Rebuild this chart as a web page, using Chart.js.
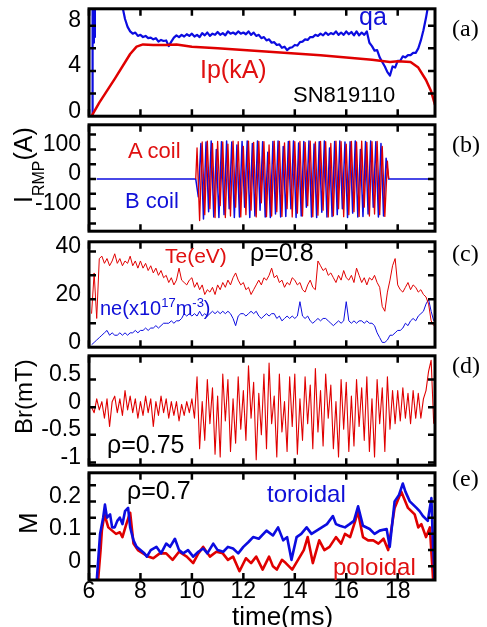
<!DOCTYPE html>
<html>
<head>
<meta charset="utf-8">
<script src="https://cdn.jsdelivr.net/npm/chart.js@4.4.0/dist/chart.umd.min.js"></script>
<style>
  html, body { margin: 0; padding: 0; background: #fff; }
  #fig { position: relative; width: 487px; height: 627px; overflow: hidden; background: #fff; }
  #fig canvas { position: absolute; left: 0; }
  .lab { position: absolute; line-height: 1; white-space: nowrap; font-family: 'Liberation Sans', Arial, sans-serif; color: #000; }
  .pl { position: absolute; line-height: 1; left: 452px; font-size: 24px; font-family: 'Liberation Serif', 'Times New Roman', serif; }
  .rot { transform-origin: 0 0; transform: rotate(-90deg); }
  .red { color: #e01010; }
  .blue { color: #1010d8; }
</style>
</head>
<body>
<div id="fig">
  <canvas id="ca"></canvas>
  <canvas id="cb"></canvas>
  <canvas id="cc"></canvas>
  <canvas id="cd"></canvas>
  <canvas id="ce"></canvas>

  <div class="lab blue" style="left:359px;top:4px;font-size:25px">qa</div>
  <div class="lab red" style="left:200px;top:57px;font-size:25px">Ip(kA)</div>
  <div class="lab" style="left:293px;top:84px;font-size:22px">SN819110</div>

  <div class="lab red" style="left:128px;top:140px;font-size:22px">A coil</div>
  <div class="lab blue" style="left:125px;top:190px;font-size:22px">B coil</div>
  <div class="lab rot" style="left:11px;top:203px;font-size:25px">I<span style="font-size:16px;position:relative;top:12px">RMP</span>(A)</div>

  <div class="lab red" style="left:165px;top:245px;font-size:21px">Te(eV)</div>
  <div class="lab" style="left:250px;top:240px;font-size:25px">ρ=0.8</div>
  <div class="lab blue" style="left:100px;top:298px;font-size:20px">ne(x10<span style="font-size:13px;position:relative;top:-8px">17</span>m<span style="font-size:13px;position:relative;top:-8px">-3</span>)</div>

  <div class="lab" style="left:107px;top:432px;font-size:25px">ρ=0.75</div>
  <div class="lab rot" style="left:12px;top:434px;font-size:24px">Br(mT)</div>

  <div class="lab" style="left:127px;top:478px;font-size:25px">ρ=0.7</div>
  <div class="lab blue" style="left:267px;top:482px;font-size:24px">toroidal</div>
  <div class="lab red" style="left:333px;top:555px;font-size:24px">poloidal</div>
  <div class="lab rot" style="left:15px;top:534px;font-size:26px">M</div>
  <div class="lab" style="left:232px;top:603px;font-size:26px">time(ms)</div>

  <div class="pl" style="top:16px">(a)</div>
  <div class="pl" style="top:132px">(b)</div>
  <div class="pl" style="top:241px">(c)</div>
  <div class="pl" style="top:353px">(d)</div>
  <div class="pl" style="top:466px">(e)</div>
</div>

<script>
// shared time axis (ms)
const xMin = 6, xMax = 19.45;
const xTickVals = [6, 8, 10, 12, 14, 16, 18];

// (a) plasma current Ip (kA) and edge safety factor qa
const ipTime = [6.1, 6.4, 7.0, 7.6, 7.85, 8.1, 8.5, 9.0, 9.4, 10, 11, 12, 13, 14, 15, 16, 17, 17.7, 18.0, 18.5, 18.8, 19.1, 19.3, 19.45];
const ipKA = [0, 1.2, 3.3, 5.5, 6.15, 6.35, 6.3, 6.3, 6.35, 6.15, 6.0, 5.85, 5.7, 5.55, 5.4, 5.2, 5.0, 4.8, 4.85, 4.8, 4.3, 3.2, 2.2, 1.0];
const qaHeadTime = [6.12, 6.14, 6.17, 6.19, 6.21, 6.23, 7.2];
const qaHead = [0, 10, 6.5, 9.5, 7, 10, 10];
const qaStart = 7.3; // then every 0.1 ms
const qa = [
  9.7, 8.6, 7.9, 7.5, 7.3, 7.4, 7.1,
  7.2, 7.0, 7.1, 6.9, 6.95, 6.8, 6.9, 6.6, 6.75, 6.65,
  6.7, 6.2, 6.6, 6.95, 7.15, 7.0, 7.2, 7.05, 7.25, 7.1,
  7.3, 7.05, 7.2, 7.0, 7.35, 7.15, 7.4, 7.1, 7.3, 7.2,
  7.45, 7.2, 7.35, 7.15, 7.5, 7.3, 7.4, 7.25, 7.5, 7.3,
  7.4, 7.25, 7.5, 7.2, 7.4, 7.1, 7.2, 6.9, 7.0, 6.7,
  6.8, 6.5, 6.55, 6.3, 6.35, 6.05, 6.15, 5.85, 6.05, 6.1,
  6.3, 6.25, 6.55, 6.6, 6.8, 6.75, 7.0, 7.0, 7.2, 7.1,
  7.3, 7.15, 7.4, 7.2, 7.35, 7.25, 7.5, 7.2, 7.4, 7.2,
  7.5, 7.25, 7.45, 7.15, 7.5, 7.15, 7.4, 7.2, 7.5, 6.5,
  6.2, 5.8, 5.85, 5.2, 4.8, 4.4, 3.9, 3.6, 4.4, 4.3,
  4.9, 4.9, 5.3, 5.2, 5.4, 5.4, 5.6, 5.6, 6.0, 6.7,
  7.6, 8.7, 10.0
];

// (b) RMP coil currents (A)
const coilOffTime = [6.3, 10.15, 17.65, 19.45];
const aCoilStart = 10.2; // every 0.1 ms
const aCoil = [
  105, -140, 125, -120, 128, -100, 120, -130, 127, -90,
  125, -130, 118, -125, 128, -95, 126, -128, 110, -120,
  128, -105, 124, -128, 127, -80, 126, -127, 115, -125,
  128, -110, 127, -126, 122, -100, 128, -128, 126, -115,
  127, -125, 124, -90, 128, -127, 125, -122, 127, -105,
  126, -128, 120, -124, 128, -100, 126, -127, 118, -120,
  127, -110, 125, -126, 128, -95, 124, -125, 126, -118,
  127, -120, 110, -126, 60
];
const bCoilStart = 10.25; // every 0.1 ms
const bCoil = [
  -60, 120, -135, 125, -110, 128, -128, 100, -130, 126,
  -120, 128, -100, 125, -130, 115, -128, 127, -95, 128,
  -130, 120, -125, 128, -105, 126, -128, 90, -130, 127,
  -118, 128, -128, 110, -126, 127, -100, 128, -130, 122,
  -125, 127, -95, 128, -128, 118, -130, 126, -112, 128,
  -128, 105, -126, 127, -120, 128, -100, 125, -130, 126,
  -115, 128, -128, 100, -126, 127, -118, 128, -95, 126,
  -128, 120, -125, 70
];

// (c) Te (eV) and ne (1e17 m^-3) at rho = 0.8, every 0.1 ms from 6.1
const profStart = 6.1;
const te = [
  14, 31, 12, 37, 38, 35, 37, 34, 36,
  39, 35, 37, 34, 36, 35, 38, 34, 36, 33,
  36, 33, 35, 32, 34, 31, 33, 30, 32, 29,
  30, 27, 29, 26, 28, 33, 28, 27, 26, 28,
  29, 25, 27, 24, 26, 22, 24, 23, 25, 22,
  26, 24, 27, 25, 28, 26, 29, 31, 28, 26,
  27, 24, 25, 22, 24, 26, 28, 26, 29, 28,
  30, 33, 29, 30, 27, 28, 25, 27, 26, 29,
  28, 26, 27, 24, 23, 26, 28, 25, 24, 36,
  34, 32, 33, 30, 31, 29, 27, 30, 28, 32,
  29, 28, 30, 27, 33, 30, 27, 29, 26, 29,
  28, 30, 27, 25, 17, 15, 23, 28, 34, 37,
  26, 24, 23, 25, 27, 24, 26, 25, 23, 24,
  22, 21, 18, 11, 9
];
const ne = [
  1, 2, 3, 4, 5, 6, 7, 5, 6,
  5, 5, 6, 5, 6, 5, 6, 6, 7, 6,
  7, 7, 8, 7, 8, 8, 9, 8, 9, 10,
  10, 10, 11, 10, 11, 11, 12, 14, 13, 14,
  13, 14, 13, 15, 13, 14, 13, 14, 15, 14,
  15, 14, 15, 14, 15, 14, 12, 9, 13, 14,
  14, 13, 14, 15, 14, 15, 13, 12, 13, 14,
  13, 14, 14, 12, 13, 11, 12, 13, 12, 13,
  12, 13, 19, 13, 12, 13, 11, 10, 11, 12,
  11, 12, 12, 11, 10, 9, 10, 11, 10, 11,
  19, 11, 10, 11, 10, 11, 11, 10, 11, 10,
  10, 9, 6, 4, 2, 2, 3, 5, 5, 6,
  7, 7, 8, 10, 9, 11, 12, 11, 13, 14,
  15, 18, 20, 15, 11
];

// (d) Br (mT) at rho = 0.75, every 0.1 ms from 6.1
const br = [
  0, -0.1, 0.15, -0.05, 0.1, -0.2, 0.15, -0.35, 0.1,
  0.2, -0.1, 0.15, -0.15, 0.3, -0.05, 0.2, -0.1, 0.15, -0.2,
  0.1, -0.15, 0.2, -0.1, 0.15, -0.35, 0.1, -0.15, 0.2, -0.1,
  0.15, -0.2, 0.1, -0.15, 0.1, -0.25, 0.05, -0.15, 0.1, -0.1,
  0.15, -0.2, 0.55, -0.75, 0.1, -0.6, 0.5, -0.3, 0.35, -0.85,
  0.2, -0.9, 0.6, -0.25, 0.5, -0.8, 0.15, -0.65, 0.55, -0.4,
  0.3, -0.6, 0.75, -0.2, 0.45, -0.95, 0.25, -0.5, 0.6, -0.75,
  0.8, -0.3, 0.2, -0.9, 0.6, -0.45, 0.1, -0.8, 0.55, -0.35,
  0.6, -0.85, 0.15, -0.6, 0.55, -0.3, 0.4, -0.75, 0.7, -0.45,
  0.3, -0.7, 0.6, -0.2, 0.4, -0.75, 0.1, -0.9, 0.5, -0.4,
  0.45, -0.8, 0.2, -0.7, 0.5, -0.35, 0.35, -0.6, 0.55, -0.8,
  0.15, -0.9, 0.5, -0.3, 0.35, -0.8, 0.55, -0.4, 0.3, -0.3,
  0.3, -0.25, 0.35, -0.2, 0.25, -0.3, 0.3, -0.2, 0.25, -0.2,
  0.15, 0.3, 0.65, 0.85, -0.3
];

// (e) Mach number at rho = 0.7
const torTime = [6.3, 6.43, 6.55, 6.62, 6.7, 6.82, 6.9, 7.0, 7.1, 7.2, 7.3, 7.4, 7.52, 7.6, 7.73, 7.85, 8.0, 8.15, 8.25, 8.4,
  8.62, 8.8, 9.0, 9.15, 9.34, 9.5, 9.66, 9.85, 10.05, 10.25, 10.44, 10.6, 10.83, 11.0, 11.22, 11.4, 11.6, 11.8, 12.0, 12.2,
  12.38, 12.6, 12.9, 13.15, 13.35, 13.55, 13.7, 13.87, 14.07, 14.25, 14.46, 14.65, 14.85, 15.05, 15.25, 15.48, 15.6, 15.75, 15.95, 16.13,
  16.3, 16.46, 16.65, 16.91, 17.1, 17.3, 17.57, 17.69, 17.88, 18.05, 18.2, 18.3, 18.47, 18.6, 18.73, 18.85, 18.98, 19.17, 19.31, 19.37, 19.44];
const toroidal = [-0.045, 0.10, 0.15, 0.19, 0.15, 0.16, 0.12, 0.12, 0.14, 0.15, 0.13, 0.17, 0.18, 0.12, 0.08, 0.06, 0.05, 0.04, 0.03, 0.05,
  0.06, 0.04, 0.07, 0.06, 0.085, 0.05, 0.04, 0.05, 0.03, 0.045, 0.055, 0.04, 0.07, 0.05, 0.045, 0.06, 0.055, 0.04, 0.06, 0.075,
  0.09, 0.085, 0.11, 0.095, 0.12, 0.08, 0.09, 0.02, 0.09, 0.10, 0.12, 0.10, 0.11, 0.12, 0.13, 0.155, 0.13, 0.125, 0.12, 0.13,
  0.14, 0.185, 0.125, 0.115, 0.10, 0.11, 0.115, 0.06, 0.20, 0.22, 0.255, 0.23, 0.20, 0.19, 0.18, 0.17, 0.155, 0.14, 0.21, 0.07, -0.045];
const polTime = [6.35, 6.45, 6.5, 6.6, 6.75, 6.9, 7.05, 7.2, 7.3, 7.45, 7.6, 7.73, 7.9, 8.1, 8.3, 8.5, 8.75, 9.0, 9.25, 9.5,
  9.8, 10.05, 10.25, 10.44, 10.7, 10.95, 11.2, 11.4, 11.6, 11.85, 12.1, 12.3, 12.5, 12.75, 13.0, 13.15, 13.3, 13.5, 13.65, 13.9,
  14.2, 14.35, 14.5, 14.7, 14.95, 15.15, 15.35, 15.6, 15.8, 15.95, 16.15, 16.35, 16.45, 16.65, 16.85, 17.05, 17.25, 17.45, 17.63, 17.88,
  18.14, 18.4, 18.66, 18.8, 18.92, 19.1, 19.25, 19.38];
const poloidal = [-0.045, 0.05, 0.11, 0.16, 0.12, 0.11, 0.10, 0.105, 0.09, 0.13, 0.165, 0.07, 0.05, 0.04, 0.03, 0.025, 0.04, 0.04, 0.02, 0.045,
  0.03, 0.01, 0.04, 0.06, 0.03, 0.045, 0.04, 0.02, 0.03, -0.015, 0.025, 0.01, 0.03, -0.01, 0.03, 0.0, -0.01, 0.02, 0.01, -0.01,
  0.03, 0.05, 0.09, 0.01, 0.08, 0.05, 0.06, 0.09, 0.07, 0.10, 0.09, 0.14, 0.17, 0.09, 0.08, 0.08, 0.07, 0.085, 0.05, 0.18,
  0.23, 0.18, 0.16, 0.12, 0.13, 0.09, 0.12, -0.045];

const RED = '#e00000';
const BLUE = '#0c0ce0';
const FONT = "'Liberation Sans', Arial, sans-serif";

const pairs = (ts, vs) => ts.map((t, i) => ({ x: t, y: vs[i] }));
const grid = (t0, vs) => vs.map((v, i) => ({ x: +(t0 + i * 0.1).toFixed(2), y: v }));

function line(points, color, width) {
  return { data: points, borderColor: color, borderWidth: width, pointRadius: 0,
           borderJoinStyle: 'round', tension: 0, fill: false };
}

// black frame with inward ticks on all four sides
const framePlugin = {
  id: 'frame',
  afterDatasetsDraw(chart, args, opts) {
    const { ctx, chartArea: a, scales: { x, y } } = chart;
    const len = 7;
    ctx.save();
    ctx.strokeStyle = '#000';
    ctx.lineWidth = 2.5;
    ctx.beginPath();
    xTickVals.forEach(t => {
      const px = x.getPixelForValue(t);
      ctx.moveTo(px, a.top); ctx.lineTo(px, a.top + len);
      ctx.moveTo(px, a.bottom); ctx.lineTo(px, a.bottom - len);
    });
    opts.ticks.forEach(v => {
      const py = y.getPixelForValue(v);
      ctx.moveTo(a.left, py); ctx.lineTo(a.left + len, py);
      ctx.moveTo(a.right, py); ctx.lineTo(a.right - len, py);
    });
    ctx.stroke();
    ctx.lineWidth = 3;
    ctx.strokeRect(a.left, a.top, a.right - a.left, a.bottom - a.top);
    ctx.restore();
  }
};

function panel(id, top, bottom, yMin, yMax, yTicks, yLabels, datasets, last) {
  const pad = 20;
  const canvas = document.getElementById(id);
  const h = last ? 627 - (top - pad) : bottom - top + 2 * pad;
  canvas.width = 487;
  canvas.height = h;
  canvas.style.width = '487px';
  canvas.style.height = h + 'px';
  canvas.style.top = (top - pad) + 'px';
  new Chart(canvas, {
    type: 'line',
    data: { datasets },
    options: {
      responsive: false,
      animation: false,
      parsing: false,
      layout: { padding: { top: pad, bottom: last ? 0 : pad, left: 0, right: 52 } },
      plugins: { legend: { display: false }, tooltip: { enabled: false }, frame: { ticks: yTicks } },
      scales: {
        x: {
          type: 'linear', min: xMin, max: xMax, display: !!last,
          grid: { display: false, drawTicks: false }, border: { display: false },
          afterBuildTicks: s => { s.ticks = xTickVals.map(v => ({ value: v })); },
          afterFit: s => { s.height = last ? 627 - bottom : 0; },
          ticks: { color: '#000', font: { family: FONT, size: 23 }, padding: -2, maxRotation: 0, autoSkip: false,
                   callback: v => String(v) }
        },
        y: {
          type: 'linear', min: yMin, max: yMax,
          grid: { display: false, drawTicks: false }, border: { display: false },
          afterBuildTicks: s => { s.ticks = yLabels.map(v => ({ value: v })); },
          afterFit: s => { s.width = 89; },
          ticks: { color: '#000', font: { family: FONT, size: 23 }, padding: 8, labelOffset: -5,
                   callback: v => String(v) }
        }
      }
    },
    plugins: [framePlugin]
  });
}

panel('ca', 7, 118, 0, 9.5, [2, 4, 6, 8], [0, 4, 8], [
  line(pairs(ipTime, ipKA), RED, 2.5),
  line(pairs(qaHeadTime, qaHead).concat(grid(qaStart, qa)), BLUE, 2.2)
]);

panel('cb', 123, 233, -176, 183, [-150, -100, -50, 0, 50, 100, 150], [-100, 0, 100], [
  line([{ x: coilOffTime[1], y: 0 }].concat(grid(aCoilStart, aCoil), [{ x: coilOffTime[2], y: 0 }]), RED, 1.3),
  line([{ x: coilOffTime[0], y: 0 }, { x: coilOffTime[1], y: 0 }].concat(grid(bCoilStart, bCoil),
       [{ x: coilOffTime[2], y: 0 }, { x: coilOffTime[3], y: 0 }]), BLUE, 1.5)
]);

panel('cc', 240, 349, 0, 44, [10, 20, 30, 40], [0, 20, 40], [
  line(grid(profStart, te), RED, 1),
  line(grid(profStart, ne), BLUE, 1)
]);

panel('cd', 354, 467, -1.05, 0.93, [-1, -0.5, 0, 0.5], [-1, -0.5, 0, 0.5], [
  line(grid(profStart, br), RED, 1.1)
]);

panel('ce', 471, 580, -0.042, 0.288, [0, 0.05, 0.1, 0.15, 0.2, 0.25], [0, 0.1, 0.2], [
  line(pairs(torTime, toroidal), BLUE, 2.6),
  line(pairs(polTime, poloidal), RED, 2.6)
], true);
</script>
</body>
</html>
